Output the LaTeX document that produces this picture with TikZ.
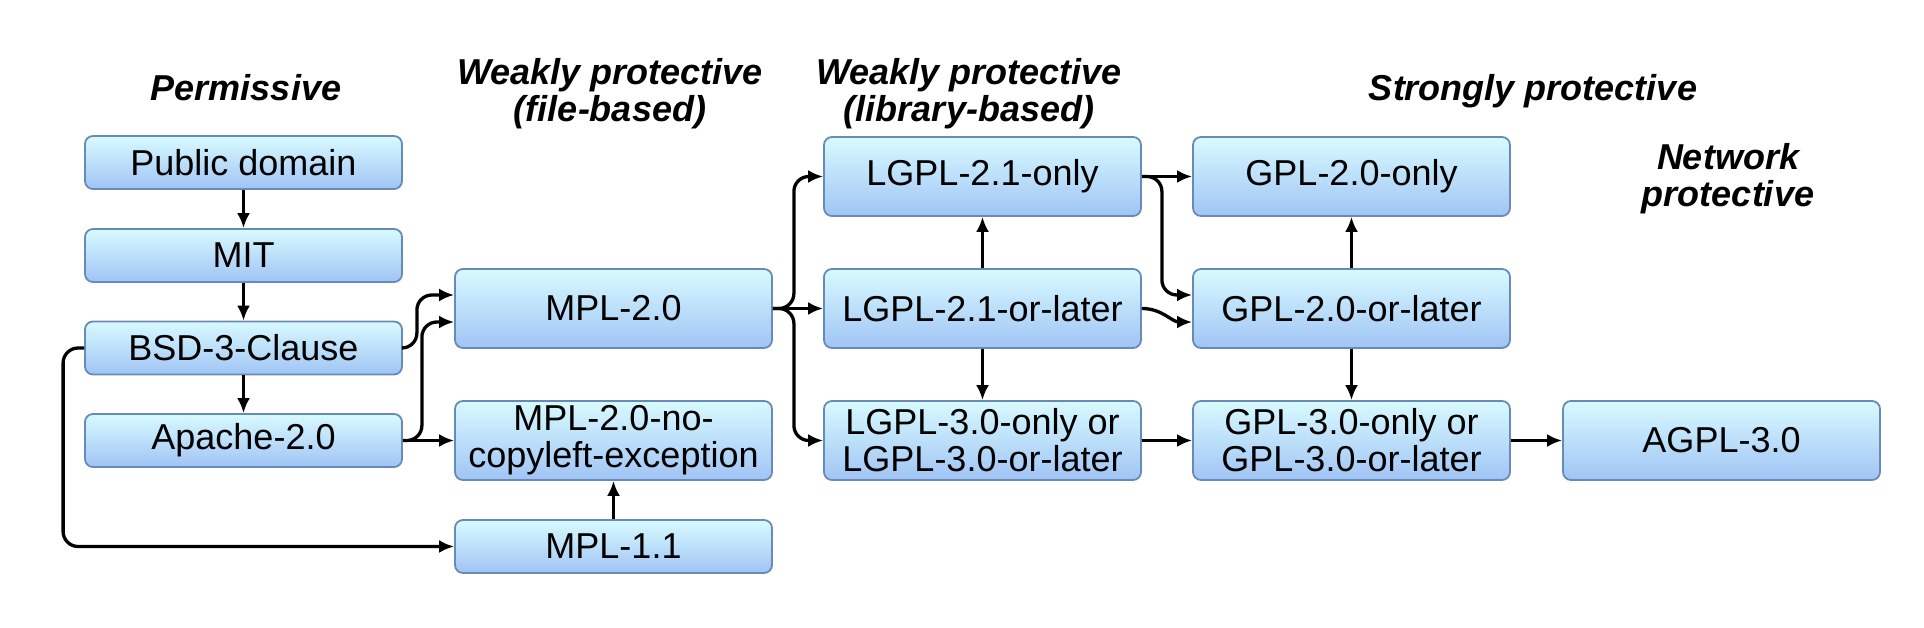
\documentclass[tikz,border=0pt]{standalone}
\usepackage{fontspec}
\setmainfont{Liberation Sans}
\usetikzlibrary{arrows.meta,calc}
\definecolor{boxtop}{RGB}{216,250,255}
\definecolor{boxbot}{RGB}{160,196,245}
\definecolor{boxline}{RGB}{104,138,182}
\begin{document}
\begin{tikzpicture}[x=1pt,y=-1pt,
  lic/.style={draw=boxline, line width=1.8pt, rounded corners=8pt, top color=boxtop, bottom color=boxbot,
    minimum width=317pt, minimum height=79pt, inner sep=0pt, align=center, font=\fontsize{36}{37}\selectfont},
  licsm/.style={lic, minimum height=53pt},
  ttl/.style={align=center, font=\fontsize{36}{37}\selectfont\bfseries\itshape},
  arr/.style={line width=3.3pt, -{Latex[length=15pt,width=13pt]}, rounded corners=15pt}]
\useasboundingbox (0,0) rectangle (1924,628);
% titles
\node[ttl, anchor=base] (t1) at (246,101) {Permissive};
\node[ttl] (t2) at (610,93.5) {Weakly protective\\(file-based)};
\node[ttl] (t3) at (969,93.5) {Weakly protective\\(library-based)};
\node[ttl, anchor=base] (t4) at (1533,101) {Strongly protective};
\node[ttl] (t5) at (1728,178.5) {Network\\protective};
% boxes
\node[licsm] (pd) at (243.5,162.5) {Public domain};
\node[licsm] (mit) at (243.5,255.5) {MIT};
\node[licsm] (bsd) at (243.5,348) {BSD-3-Clause};
\node[licsm] (apache) at (243.5,440.5) {Apache-2.0};
\node[lic] (mpl2) at (613.5,308.5) {MPL-2.0};
\node[lic] (mplno) at (613.5,440.5) {MPL-2.0-no-\\copyleft-exception};
\node[licsm] (mpl11) at (613.5,546.5) {MPL-1.1};
\node[lic] (lgpl21o) at (982.5,176.5) {LGPL-2.1-only};
\node[lic] (lgpl21l) at (982.5,308.5) {LGPL-2.1-or-later};
\node[lic] (lgpl3) at (982.5,440.5) {LGPL-3.0-only or\\LGPL-3.0-or-later};
\node[lic] (gpl2o) at (1351.5,176.5) {GPL-2.0-only};
\node[lic] (gpl2l) at (1351.5,308.5) {GPL-2.0-or-later};
\node[lic] (gpl3) at (1351.5,440.5) {GPL-3.0-only or\\GPL-3.0-or-later};
\node[lic] (agpl) at (1721.5,440.5) {AGPL-3.0};
% connectors
\draw[arr] (pd) -- (mit);
\draw[arr] (mit) -- (bsd);
\draw[arr] (bsd) -- (apache);
\draw[arr] (bsd.east) -- ++(14,0) |- ($(mpl2.west)+(0,-13.5)$);
\draw[arr] (apache.east) -- ++(19,0) |- ($(mpl2.west)+(0,13.5)$);
\draw[arr] (apache.east) -- (mplno.west);
\draw[arr] (bsd.west) -- ++(-21,0) |- (mpl11.west);
\draw[arr] (mpl11) -- (mplno);
\draw[arr] (mpl2.east) -- ++(21,0) |- (lgpl21o.west);
\draw[arr] (mpl2.east) -- (lgpl21l.west);
\draw[arr] (mpl2.east) -- ++(21,0) |- (lgpl3.west);
\draw[arr] (lgpl21l) -- (lgpl21o);
\draw[arr] (lgpl21l) -- (lgpl3);
\draw[arr] (lgpl21o) -- (gpl2o);
\draw[arr] (lgpl21o.east) -- ++(20,0) |- ($(gpl2l.west)+(0,-13.5)$);
\draw[arr, sharp corners] (lgpl21l.east) to[out=0,in=180] ($(gpl2l.west)+(0,13.5)$);
\draw[arr] (lgpl3) -- (gpl3);
\draw[arr] (gpl2l) -- (gpl2o);
\draw[arr] (gpl2l) -- (gpl3);
\draw[arr] (gpl3) -- (agpl);
\end{tikzpicture}
\end{document}
